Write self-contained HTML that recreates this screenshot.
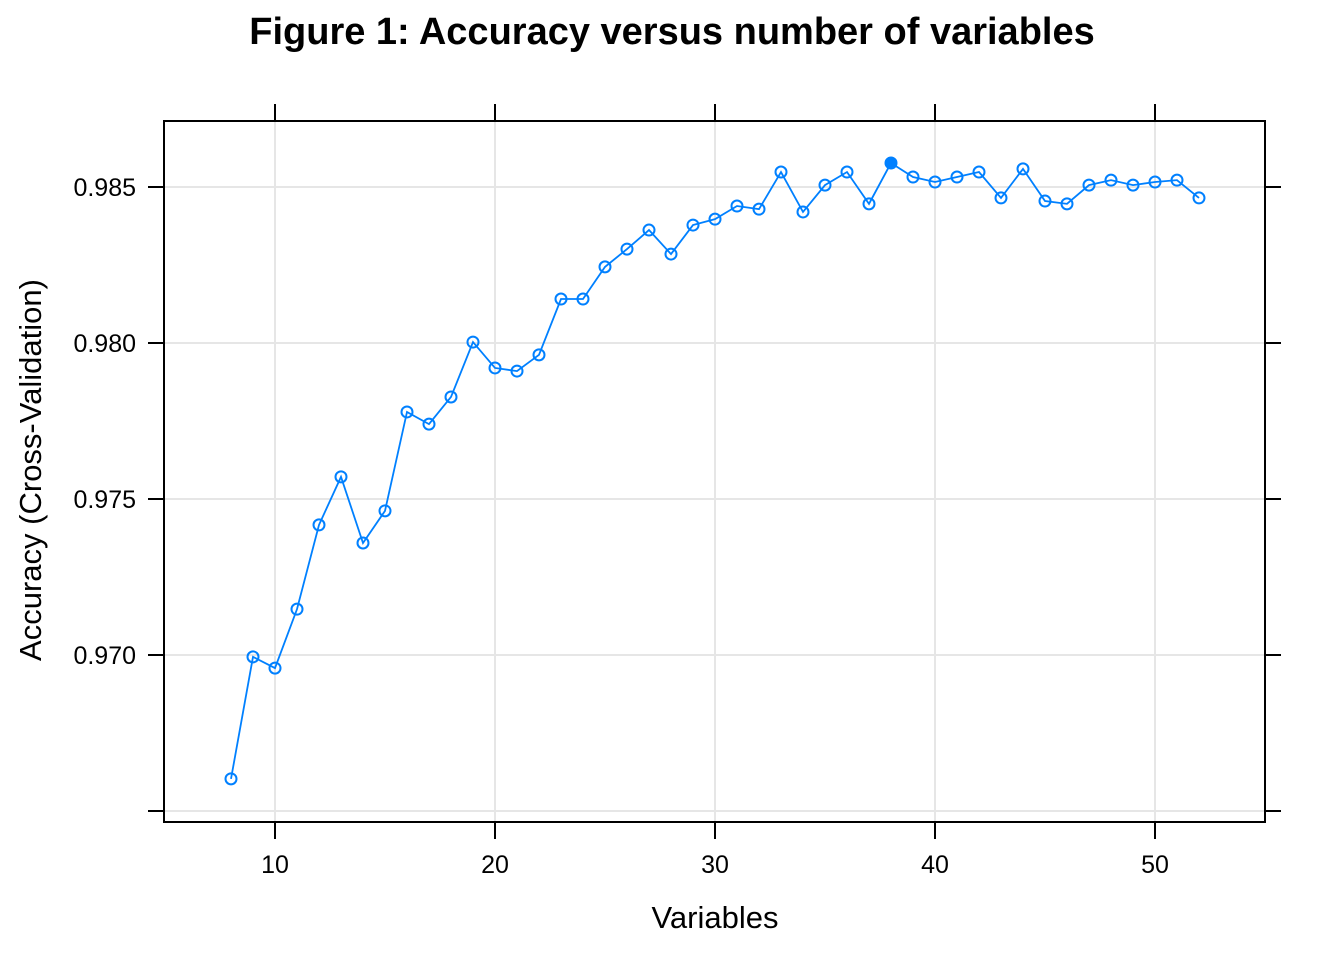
<!DOCTYPE html>
<html><head><meta charset="utf-8"><style>
body{margin:0;background:#fff;}
svg text{font-family:"Liberation Sans",Arial,sans-serif;}
</style></head><body>
<svg id="chart" width="1344" height="960">
<text x="672" y="44" text-anchor="middle" font-size="38" font-weight="bold">Figure 1: Accuracy versus number of variables</text>
<g id="grid"></g>
<g id="axes"></g>
<g id="series"></g>
<text x="715" y="928" text-anchor="middle" font-size="31">Variables</text>
<text transform="translate(41,470) rotate(-90)" text-anchor="middle" font-size="31">Accuracy (Cross-Validation)</text>
</svg>
<script>
const variables=[8,9,10,11,12,13,14,15,16,17,18,19,20,21,22,23,24,25,26,27,28,29,30,31,32,33,34,35,36,37,38,39,40,41,42,43,44,45,46,47,48,49,50,51,52];
const accuracy=[0.96603,0.96994,0.96958,0.97147,0.97417,0.97571,0.97359,0.97462,0.97779,0.97740,0.97827,0.98003,0.97920,0.97910,0.97962,0.98141,0.98141,0.98244,0.98301,0.98362,0.98285,0.98378,0.98397,0.98439,0.98429,0.98548,0.98420,0.98506,0.98548,0.98446,0.98577,0.98532,0.98516,0.98532,0.98548,0.98465,0.98558,0.98455,0.98446,0.98506,0.98522,0.98506,0.98516,0.98522,0.98465];
const xTicks=[10,20,30,40,50];
const yTicks=[0.965,0.970,0.975,0.980,0.985];
const yTickLabels=["","0.970","0.975","0.980","0.985"];
const NS="http://www.w3.org/2000/svg";
const L=164,R=1265,T=121,B=822;
const xs=v=>275+(v-10)*22;
const ys=v=>655-(v-0.970)*31200;
function mk(tag,attrs,parent){const e=document.createElementNS(NS,tag);for(const k in attrs)e.setAttribute(k,attrs[k]);parent.appendChild(e);return e;}
const grid=document.getElementById('grid'),axes=document.getElementById('axes'),series=document.getElementById('series');
xTicks.forEach(t=>{
 const g=mk('line',{x1:xs(t),x2:xs(t),y1:T,y2:B,stroke:'#e6e6e6','stroke-width':2},grid);
 
 
 [[T-17,T],[B,B+17]].forEach(p=>{const tk=mk('line',{x1:xs(t),x2:xs(t),y1:p[0],y2:p[1],stroke:'#000','stroke-width':2},axes);
 
 });
 const lb=mk('text',{x:xs(t),y:873,'text-anchor':'middle','font-size':25},axes);lb.textContent=t;
 
 
});
yTicks.forEach((t,i)=>{
 const g=mk('line',{x1:L,x2:R,y1:ys(t),y2:ys(t),stroke:'#e6e6e6','stroke-width':2},grid);
 
 
 [[L-16,L],[R,R+16]].forEach(p=>{const tk=mk('line',{x1:p[0],x2:p[1],y1:ys(t),y2:ys(t),stroke:'#000','stroke-width':2},axes);
 
 });
 const lb=mk('text',{x:136,y:ys(t)+9,'text-anchor':'end','font-size':25},axes);lb.textContent=yTickLabels[i];
 
 
});
const box=mk('rect',{x:L,y:T,width:R-L,height:B-T,fill:'none',stroke:'#000','stroke-width':2},axes);


const pl=mk('polyline',{points:variables.map((v,i)=>xs(v)+','+ys(accuracy[i])).join(' '),fill:'none',stroke:'#0080ff','stroke-width':1.8},series);


let best=0;accuracy.forEach((a,i)=>{if(a>accuracy[best])best=i;});
variables.forEach((v,i)=>{
 const c=mk('circle',{cx:xs(v),cy:ys(accuracy[i]),r:5.5,fill:i===best?'#0080ff':'#fff','fill-opacity':i===best?1:0,stroke:'#0080ff','stroke-width':2},series);
 
 
});
</script>
</body></html>
